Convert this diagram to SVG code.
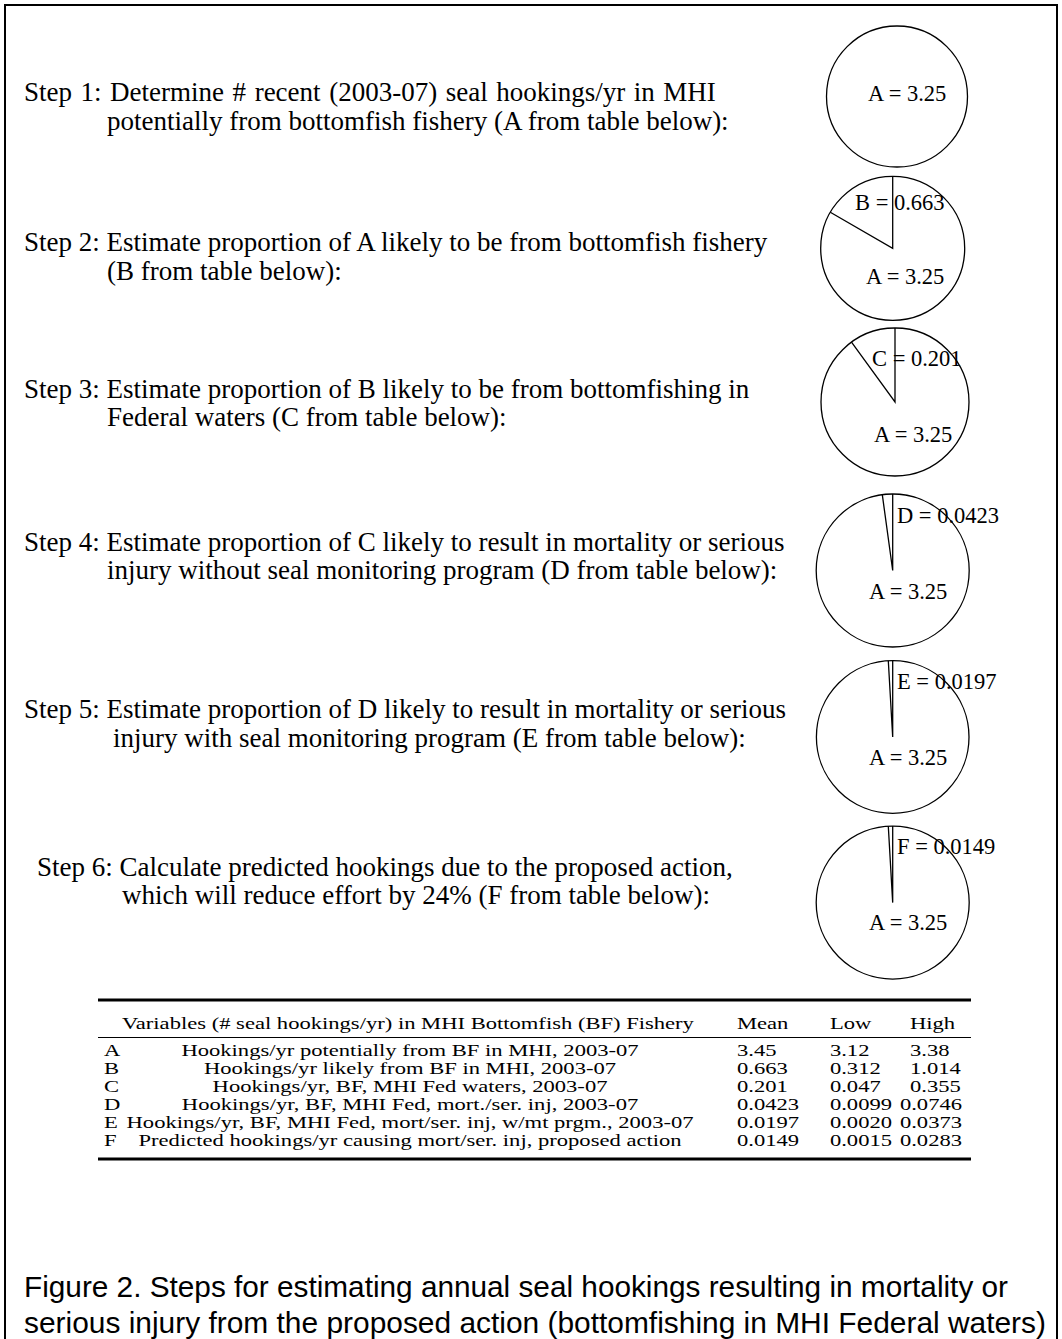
<svg xmlns="http://www.w3.org/2000/svg" width="1062" height="1339" viewBox="0 0 1062 1339">
<style>
.st{font-family:"Liberation Serif","Times New Roman",serif;font-size:27px;fill:#000}
.pl{font-family:"Liberation Serif","Times New Roman",serif;font-size:22.5px;fill:#000}
.tb{font-family:"Liberation Serif","Times New Roman",serif;font-size:16.5px;fill:#000}
.cap{font-family:"Liberation Sans",Arial,sans-serif;font-size:29px;fill:#000}
.pie{fill:#fff;stroke:#000;stroke-width:1.3}
.ln{stroke:#000;stroke-width:1.3;fill:none}
</style>
<rect x="0" y="0" width="1062" height="1339" fill="#fff"/>
<rect x="5" y="5" width="1052" height="1400" fill="none" stroke="#000" stroke-width="2"/>
<g id="step1">
<text class="st" x="24" y="101" word-spacing="1.8">Step 1: Determine # recent (2003-07) seal hookings/yr in MHI</text>
<text class="st" x="107" y="130">potentially from bottomfish fishery (A from table below):</text>
</g>
<g id="step2">
<text class="st" x="24" y="251">Step 2: Estimate proportion of A likely to be from bottomfish fishery</text>
<text class="st" x="107" y="280">(B from table below):</text>
</g>
<g id="step3">
<text class="st" x="24" y="398">Step 3: Estimate proportion of B likely to be from bottomfishing in</text>
<text class="st" x="107" y="426">Federal waters (C from table below):</text>
</g>
<g id="step4">
<text class="st" x="24" y="551">Step 4: Estimate proportion of C likely to result in mortality or serious</text>
<text class="st" x="107" y="579">injury without seal monitoring program (D from table below):</text>
</g>
<g id="step5">
<text class="st" x="24" y="718">Step 5: Estimate proportion of D likely to result in mortality or serious</text>
<text class="st" x="113" y="747">injury with seal monitoring program (E from table below):</text>
</g>
<g id="step6">
<text class="st" x="37" y="876">Step 6: Calculate predicted hookings due to the proposed action,</text>
<text class="st" x="122" y="904">which will reduce effort by 24% (F from table below):</text>
</g>
<g id="pie1">
<circle class="pie" cx="897" cy="96.5" r="70.5"/>
<text class="pl" x="868" y="101">A = 3.25</text>
</g>
<g id="pie2">
<circle class="pie" cx="892.7" cy="248.3" r="72"/>
<path class="ln" d="M892.7 176.3V248.3L830.3 212.3"/>
<text class="pl" x="855" y="210">B = 0.663</text>
<text class="pl" x="866" y="284">A = 3.25</text>
</g>
<g id="pie3">
<circle class="pie" cx="895" cy="402" r="74"/>
<path class="ln" d="M895 328V402L851.5 342.1"/>
<text class="pl" x="872" y="366">C = 0.201</text>
<text class="pl" x="874" y="442">A = 3.25</text>
</g>
<g id="pie4">
<circle class="pie" cx="892.7" cy="570.5" r="76.5"/>
<path class="ln" d="M892.7 494V570.5L882.3 494.7"/>
<text class="pl" x="897" y="523">D = 0.0423</text>
<text class="pl" x="869" y="599">A = 3.25</text>
</g>
<g id="pie5">
<circle class="pie" cx="892.7" cy="737" r="76.3"/>
<path class="ln" d="M892.7 660.7V737L888.3 660.8"/>
<text class="pl" x="897" y="689">E = 0.0197</text>
<text class="pl" x="869" y="765">A = 3.25</text>
</g>
<g id="pie6">
<circle class="pie" cx="892.7" cy="902.6" r="76.5"/>
<path class="ln" d="M892.7 826.1V902.6L888.3 826.2"/>
<text class="pl" x="897" y="854">F = 0.0149</text>
<text class="pl" x="869" y="930">A = 3.25</text>
</g>
<g id="table">
<line x1="98" y1="1000" x2="971" y2="1000" stroke="#000" stroke-width="3"/>
<line x1="98" y1="1037.5" x2="971" y2="1037.5" stroke="#000" stroke-width="1.2"/>
<line x1="98" y1="1159" x2="971" y2="1159" stroke="#000" stroke-width="3"/>
<g class="tb" transform="scale(1.37,1)">
<text x="89.05" y="1029">Variables (# seal hookings/yr) in MHI Bottomfish (BF) Fishery</text>
<text x="537.96" y="1029">Mean</text>
<text x="605.8" y="1029">Low</text>
<text x="664.2" y="1029">High</text>
<text x="75.9" y="1056">A</text><text x="299.3" y="1056" text-anchor="middle">Hookings/yr potentially from BF in MHI, 2003-07</text><text x="537.96" y="1056">3.45</text><text x="605.8" y="1056">3.12</text><text x="664.2" y="1056">3.38</text>
<text x="75.9" y="1074">B</text><text x="299.3" y="1074" text-anchor="middle">Hookings/yr likely from BF in MHI, 2003-07</text><text x="537.96" y="1074">0.663</text><text x="605.8" y="1074">0.312</text><text x="664.2" y="1074">1.014</text>
<text x="75.9" y="1092">C</text><text x="299.3" y="1092" text-anchor="middle">Hookings/yr, BF, MHI Fed waters, 2003-07</text><text x="537.96" y="1092">0.201</text><text x="605.8" y="1092">0.047</text><text x="664.2" y="1092">0.355</text>
<text x="75.9" y="1110">D</text><text x="299.3" y="1110" text-anchor="middle">Hookings/yr, BF, MHI Fed, mort./ser. inj, 2003-07</text><text x="537.96" y="1110">0.0423</text><text x="605.8" y="1110">0.0099</text><text x="656.9" y="1110">0.0746</text>
<text x="75.9" y="1128">E</text><text x="299.3" y="1128" text-anchor="middle">Hookings/yr, BF, MHI Fed, mort/ser. inj, w/mt prgm., 2003-07</text><text x="537.96" y="1128">0.0197</text><text x="605.8" y="1128">0.0020</text><text x="656.9" y="1128">0.0373</text>
<text x="75.9" y="1146">F</text><text x="299.3" y="1146" text-anchor="middle">Predicted hookings/yr causing mort/ser. inj, proposed action</text><text x="537.96" y="1146">0.0149</text><text x="605.8" y="1146">0.0015</text><text x="656.9" y="1146">0.0283</text>
</g>
</g>
<g id="caption">
<text class="cap" x="24" y="1297" textLength="984" lengthAdjust="spacingAndGlyphs">Figure 2. Steps for estimating annual seal hookings resulting in mortality or</text>
<text class="cap" x="24" y="1333" textLength="1022" lengthAdjust="spacingAndGlyphs">serious injury from the proposed action (bottomfishing in MHI Federal waters)</text>
</g>
</svg>
